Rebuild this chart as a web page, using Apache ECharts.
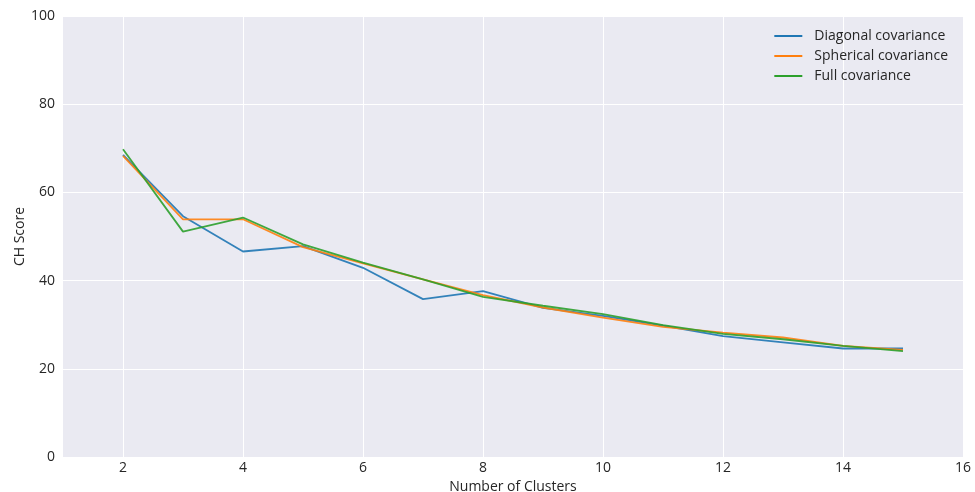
<!DOCTYPE html>
<html>
<head>
    <meta charset="utf-8">
    <title>CH Score</title>
    <script src="https://cdn.jsdelivr.net/npm/echarts@6/dist/echarts.min.js"></script>
    <style>
        html, body { margin: 0; padding: 0; background: #fff; }
        #chart { width: 975px; height: 492px; }
    </style>
</head>
<body>
<div id="chart"></div>
<script>
    // number of clusters
    var clusters = [2, 3, 4, 5, 6, 7, 8, 9, 10, 11, 12, 13, 14, 15];
    // CH scores
    var diagonal = [68.5, 54.6, 46.6, 47.8, 42.9, 35.8, 37.6, 33.8, 32.0, 29.8, 27.4, 26.0, 24.6, 24.6];
    var spherical = [68.3, 53.9, 53.9, 47.6, 43.9, 40.3, 36.7, 33.9, 31.6, 29.5, 28.2, 27.1, 25.2, 24.3];
    var full = [69.8, 51.1, 54.3, 48.2, 44.1, 40.3, 36.3, 34.3, 32.4, 29.9, 27.9, 26.7, 25.2, 24.0];
    var xTicks = [2, 4, 6, 8, 10, 12, 14, 16];
    var yTicks = [0, 20, 40, 60, 80, 100];

    var names = ['Diagonal covariance', 'Spherical covariance', 'Full covariance'];
    var colors = ['#1f77b4', '#ff7f0e', '#2ca02c'];
    var font = 'Open Sans';

    function pairs(ys) {
        return clusters.map(function (x, i) {
            return [x, ys[i]];
        });
    }

    var series = [diagonal, spherical, full].map(function (ys, i) {
        return {
            name: names[i],
            type: 'line',
            data: pairs(ys),
            symbol: 'none',
            lineStyle: {width: 1.8, color: colors[i], opacity: 0.9},
            itemStyle: {color: colors[i]},
            z: 2 + i
        };
    });

    var myChart = echarts.init(document.getElementById('chart'));
    myChart.setOption({
        animation: false,
        textStyle: {fontFamily: font},
        grid: {
            left: 63, right: 12, top: 16, bottom: 35,
            outerBoundsMode: 'none',
            backgroundColor: '#eaeaf2', show: true, borderWidth: 0
        },
        legend: {
            data: names,
            orient: 'vertical',
            right: 22,
            top: 24,
            itemWidth: 28,
            itemHeight: 2,
            itemGap: 6,
            icon: 'rect',
            textStyle: {fontFamily: font, fontSize: 14, color: '#262626', padding: [0, 0, 0, 7]}
        },
        xAxis: {
            type: 'value',
            min: 1,
            max: 16,
            name: 'Number of Clusters',
            nameLocation: 'middle',
            nameGap: 17,
            nameTextStyle: {fontFamily: font, fontSize: 14, color: '#262626'},
            axisLine: {show: false},
            axisTick: {show: false, customValues: xTicks},
            axisLabel: {customValues: xTicks, fontFamily: font, fontSize: 14, color: '#262626', margin: 4},
            splitLine: {show: true, lineStyle: {color: '#ffffff', width: 1}}
        },
        yAxis: {
            type: 'value',
            min: 0,
            max: 100,
            interval: 20,
            name: 'CH Score',
            nameLocation: 'middle',
            nameGap: 36,
            nameMoveOverlap: false,
            nameTextStyle: {fontFamily: font, fontSize: 14, color: '#262626'},
            axisLine: {show: false},
            axisTick: {show: false},
            axisLabel: {
                fontFamily: font, fontSize: 14, color: '#262626', margin: 8,
                formatter: function (v) {
                    return yTicks.indexOf(v) >= 0 ? String(v) : '';
                }
            },
            splitLine: {show: true, lineStyle: {color: '#ffffff', width: 1}}
        },
        series: series
    });
</script>
</body>
</html>
